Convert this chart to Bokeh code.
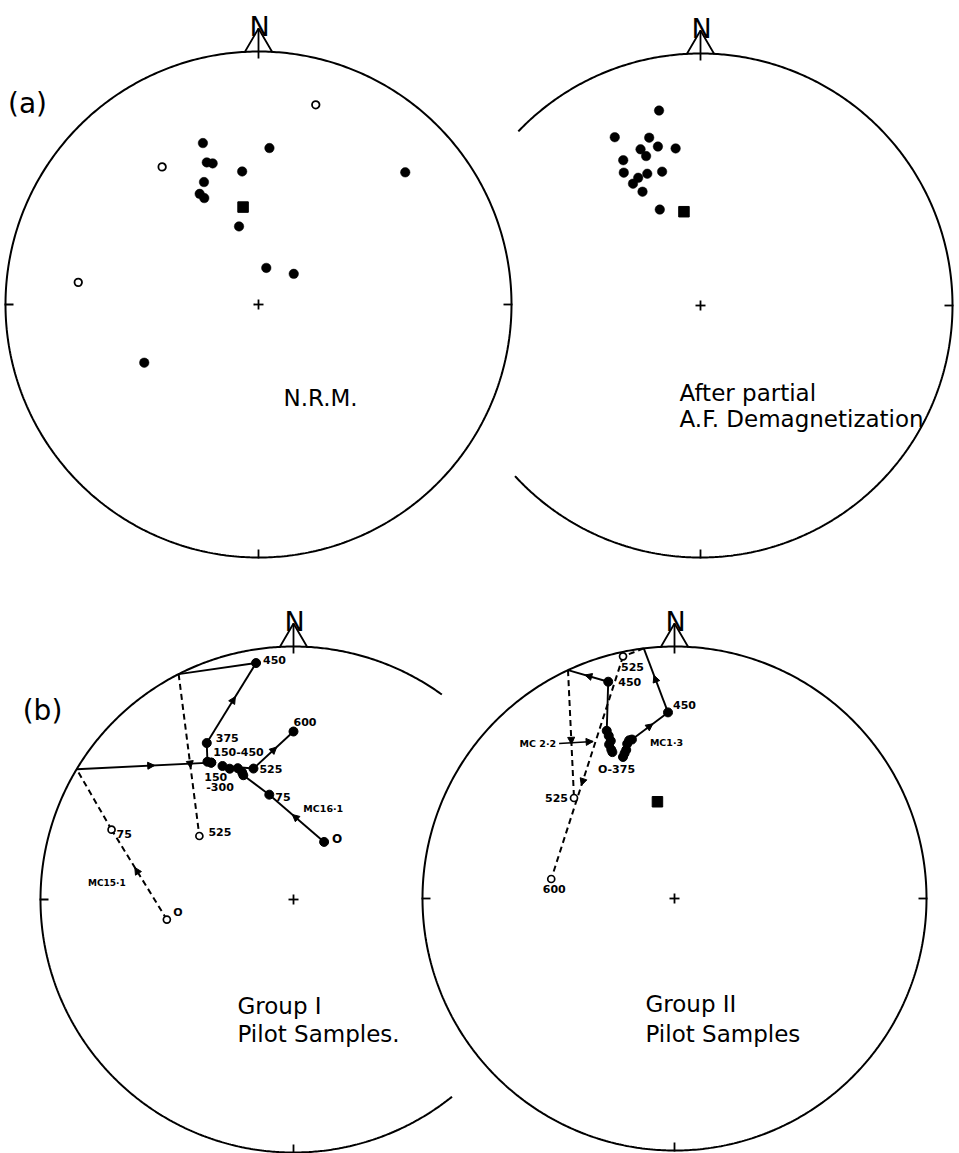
import numpy as np
from bokeh.plotting import figure
from bokeh.models import Range1d, ColumnDataSource, Arrow, NormalHead
from bokeh.embed import file_html
from bokeh.resources import INLINE

# ---------------- data (declination, inclination in degrees) ----------------
# negative inclination = upper hemisphere (open symbols)
nrm_dec = [16, 341, 4, 325, 340, 342, 353, 48, 336, 332, 333, 346, 12, 49, 277, 243]
nrm_inc = [-19, 33, 38, -34, 40, 41, 46, 23, 46, 49, 51, 64, 78, 75, -29, 48]
nrm_mean_dec = [351]
nrm_mean_inc = [58]

af_dec = [348, 333, 343, 345, 351, 339, 340, 332, 330, 344, 338, 334, 331, 333, 337]
af_inc = [22, 26, 31, 35, 37, 34, 37, 35, 39, 44, 43, 43, 44, 48, 56]
af_mean_dec = [350]
af_mean_inc = [59]

# pilot samples: thermal demagnetization steps ("" = crossing of the primitive)
mc151_step = ["0", "75", "", "150", "225", "300", "375", "450", "", "525"]
mc151_dec = [261, 291, 301, 329, 329, 328, 331, 351, 333, 304]
mc151_inc = [-48, -24, 0, 37, 37, 36, 30, 6, 0, -53]

mc161_step = ["0", "75", "150", "225", "300", "375", "450", "525", "600"]
mc161_dec = [28, 347, 338, 338, 337, 334, 332, 343, 0]
mc161_inc = [69, 55, 46, 45, 43, 42, 40, 45, 34]

mc22_step = ["0", "75", "150", "225", "300", "375", "450", "", "525"]
mc22_dec = [337, 337, 337, 338, 338, 338, 343, 335, 315]
mc22_inc = [37, 36, 34, 33, 31, 29, 11, 0, -43]

mc13_step = ["0", "75", "150", "225", "300", "375", "450", "", "525", "600"]
mc13_dec = [340, 341, 342, 343, 344, 345, 358, 353, 348, 279]
mc13_inc = [40, 39, 38, 36, 35, 35, 27, 0, -2, -49]

group2_mean_dec = [350]
group2_mean_inc = [58]

# ---------------- layout (page pixel space) ----------------
PANELS = {
    "a1": (258, 304, 253),
    "a2": (700, 305, 252),
    "b1": (293, 899, 253),
    "b2": (674, 898, 252),
}
ARC = {"a1": (0, 360), "a2": (-137.4, 136.3), "b1": (54.1, 308.8), "b2": (0, 360)}
TICKS = {"a1": [0, 180, 270], "a2": [0, 270], "b1": [180, 270], "b2": [0, 180, 270]}

FONT = "DejaVu Sans"

p = figure(width=959, height=1153, x_range=Range1d(0, 959), y_range=Range1d(1153, 0),
           output_backend="svg", toolbar_location=None, x_axis_type=None, y_axis_type=None,
           min_border=0, background_fill_color="white", border_fill_color="white")
p.outline_line_color = None
p.grid.visible = False


def proj(dec, inc, key):
    cx, cy, R = PANELS[key]
    d = np.radians(np.asarray(dec, dtype=float))
    t = np.radians(90.0 - np.abs(np.asarray(inc, dtype=float)))
    rho = R * np.sqrt(2.0) * np.sin(t / 2.0)
    return cx + rho * np.sin(d), cy - rho * np.cos(d)


# --------- nets: primitive circles, N marks, ticks, centre crosses ---------
cxs, cys = [], []
for key, (cx, cy, R) in PANELS.items():
    a0, a1 = ARC[key]
    t = np.radians(np.linspace(a0, a1, 600))
    cxs.append(list(cx + R * np.cos(t)))
    cys.append(list(cy - R * np.sin(t)))
p.multi_line(cxs, cys, line_color="black", line_width=2)

segx, segy = [], []
for key, (cx, cy, R) in PANELS.items():
    top = cy - R
    apex = top - 23
    segx += [[cx - 14, cx, cx + 14], [cx, cx]]
    segy += [[top + 1, apex, top + 1], [apex, top + 7]]
    for ang in TICKS[key]:
        a = np.radians(ang)
        segx.append([cx + (R + 1) * np.cos(a), cx + (R - 8) * np.cos(a)])
        segy.append([cy - (R + 1) * np.sin(a), cy - (R - 8) * np.sin(a)])
    segx += [[cx - 5, cx + 5], [cx, cx]]
    segy += [[cy, cy], [cy - 5, cy + 5]]
p.multi_line(segx, segy, line_color="black", line_width=1.8)

p.text(x=[PANELS[k][0] + 1 for k in PANELS], y=[PANELS[k][1] - PANELS[k][2] - 25 for k in PANELS],
       text=["N"] * 4, text_align="center", text_baseline="alphabetic",
       text_font={"value": FONT}, text_font_size="27px", text_color="black")

# --------- panel (a): NRM and AF-cleaned directions ---------
def plot_points(dec, inc, key, size_f=9.5, size_o=7.5):
    x, y = proj(dec, inc, key)
    inc = np.asarray(inc)
    f = inc >= 0
    p.scatter(x[f], y[f], size=size_f, marker="circle", fill_color="black", line_color="black", line_width=0.5)
    o = ~f
    if o.any():
        p.scatter(x[o], y[o], size=size_o, marker="circle", fill_color="white", line_color="black", line_width=1.8)

plot_points(nrm_dec, nrm_inc, "a1")
plot_points(af_dec, af_inc, "a2")
for d, i, k in [(nrm_mean_dec, nrm_mean_inc, "a1"), (af_mean_dec, af_mean_inc, "a2"),
                (group2_mean_dec, group2_mean_inc, "b2")]:
    x, y = proj(d, i, k)
    p.scatter(x, y, size=10.5, marker="square", fill_color="black", line_color="black")

# --------- panel (b): demagnetization paths ---------
SAMPLES = {
    "mc151": ("b1", mc151_step, mc151_dec, mc151_inc, [0, 2, 6, 8]),
    "mc161": ("b1", mc161_step, mc161_dec, mc161_inc, [0, 7]),
    "mc22": ("b2", mc22_step, mc22_dec, mc22_inc, [6, 7]),
    "mc13": ("b2", mc13_step, mc13_dec, mc13_inc, [5, 6, 8]),
}
PTS = {}
solid_x, solid_y, dash_x, dash_y = [], [], [], []
arr = dict(xs=[], ys=[], xe=[], ye=[])
for name, (key, steps, dec, inc, arrows) in SAMPLES.items():
    x, y = proj(dec, inc, key)
    PTS[name] = (x, y)
    for s in range(len(x) - 1):
        if inc[s] < 0 or inc[s + 1] < 0:
            dash_x.append([x[s], x[s + 1]]); dash_y.append([y[s], y[s + 1]])
        else:
            solid_x.append([x[s], x[s + 1]]); solid_y.append([y[s], y[s + 1]])
        if s in arrows:
            arr["xs"].append(x[s] + 0.40 * (x[s + 1] - x[s]))
            arr["ys"].append(y[s] + 0.40 * (y[s + 1] - y[s]))
            arr["xe"].append(x[s] + 0.58 * (x[s + 1] - x[s]))
            arr["ye"].append(y[s] + 0.58 * (y[s + 1] - y[s]))
p.multi_line(solid_x, solid_y, line_color="black", line_width=1.9)
p.multi_line(dash_x, dash_y, line_color="black", line_width=2, line_dash="6 4")

for name, (key, steps, dec, inc, arrows) in SAMPLES.items():
    x, y = PTS[name]
    inc = np.asarray(inc)
    has = np.array([s != "" for s in steps])
    f = has & (inc > 0)
    o = has & (inc < 0)
    p.scatter(x[f], y[f], size=9, marker="circle", fill_color="black", line_color="black")
    p.scatter(x[o], y[o], size=7, marker="circle", fill_color="white", line_color="black", line_width=1.7)

# pointer from the MC 2.2 label to its cluster
px, py = PTS["mc22"][0][2] - 16, PTS["mc22"][1][2] - 3
arr["xs"].append(px - 34); arr["ys"].append(py + 2)
arr["xe"].append(px); arr["ye"].append(py)
p.segment(x0=[px - 34], y0=[py + 2], x1=[px], y1=[py], line_color="black", line_width=1.6)

p.add_layout(Arrow(end=NormalHead(size=7, fill_color="black", line_color="black", line_width=1),
                   x_start="xs", y_start="ys", x_end="xe", y_end="ye",
                   source=ColumnDataSource(arr), line_alpha=0))

# step labels (sample, index, text, dx, dy, align, size)
LABELS = [
    ("mc151", 0, "O", 11, -7, "center", 11),
    ("mc151", 1, "75", 5, 4, "left", 11),
    ("mc151", 3, "150", -7, 14, "left", 11),
    ("mc151", 3, "-300", -5, 24, "left", 11),
    ("mc151", 6, "375", 9, -5, "left", 11),
    ("mc151", 7, "450", 7, -3, "left", 11),
    ("mc151", 9, "525", 9, -4, "left", 11),
    ("mc151", 0, "MC15·1", -60, -37, "center", 9),
    ("mc161", 0, "O", 13, -3, "center", 12),
    ("mc161", 1, "75", 6, 2, "left", 11),
    ("mc161", 2, "150-450", -30, -23, "left", 11),
    ("mc161", 7, "525", 6, 0, "left", 11),
    ("mc161", 8, "600", 0, -10, "left", 11),
    ("mc161", 1, "MC16·1", 54, 14, "center", 9.5),
    ("mc22", 6, "450", 10, 0, "left", 11),
    ("mc22", 8, "525", -6, 0, "right", 11),
    ("mc22", 2, "MC 2·2", -53, -1, "right", 9.5),
    ("mc13", 0, "O-375", -25, 13, "left", 11),
    ("mc13", 6, "450", 5, -7, "left", 11),
    ("mc13", 8, "525", -2, 11, "left", 11),
    ("mc13", 9, "600", 3, 10, "center", 11),
    ("mc13", 5, "MC1·3", 18, 3, "left", 9.5),
]
for align in ["left", "center", "right"]:
    for size in sorted(set(l[6] for l in LABELS)):
        sel = [l for l in LABELS if l[5] == align and l[6] == size]
        if not sel:
            continue
        lx = [PTS[l[0]][0][l[1]] + l[3] for l in sel]
        ly = [PTS[l[0]][1][l[1]] + l[4] for l in sel]
        p.text(x=lx, y=ly, text=[l[2] for l in sel], text_align=align, text_baseline="middle",
               text_font={"value": FONT}, text_font_style="bold", text_font_size=f"{size}px",
               text_color="black")

# --------- captions ---------
CAPTIONS = [
    ("a1", 25, 93, "N.R.M."),
    ("a2", -21, 87, "After partial"),
    ("a2", -21, 113, "A.F. Demagnetization"),
    ("b1", -56, 106, "Group I"),
    ("b1", -56, 134, "Pilot Samples."),
    ("b2", -29, 105, "Group II"),
    ("b2", -29, 135, "Pilot Samples"),
]
p.text(x=[PANELS[c[0]][0] + c[1] for c in CAPTIONS], y=[PANELS[c[0]][1] + c[2] for c in CAPTIONS],
       text=[c[3] for c in CAPTIONS], text_align="left", text_baseline="alphabetic",
       text_font={"value": FONT}, text_font_size="23px", text_color="black")

p.text(x=[27, 42], y=[103, 710], text=["(a)", "(b)"], text_align="center", text_baseline="middle",
       text_font={"value": FONT}, text_font_size="28px", text_color="black")

open("out.html", "w").write(file_html(p, INLINE))
